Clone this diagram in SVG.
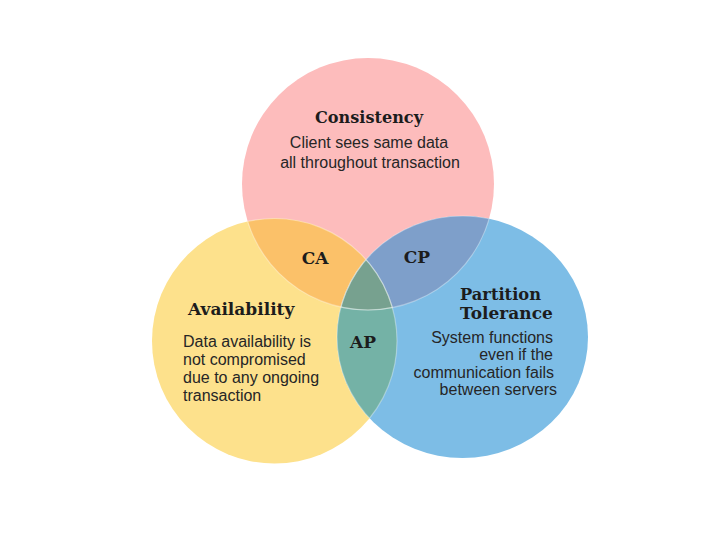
<svg xmlns="http://www.w3.org/2000/svg" width="720" height="542" viewBox="0 0 720 542">
<style>
.title{font-family:"DejaVu Serif","Liberation Serif",serif;font-weight:bold;font-size:17px;fill:#1c1c1c}
.body{font-family:"Liberation Sans",Arial,sans-serif;font-size:16px;fill:#262626}
.edge{fill:none;stroke:#ffffff;stroke-opacity:0.35;stroke-width:1.2}
</style>
<defs>
<clipPath id="clipC"><circle cx="368" cy="184" r="126"/></clipPath>
<clipPath id="clipA"><circle cx="274.5" cy="341" r="122.5"/></clipPath>
<clipPath id="clipP"><ellipse cx="462.5" cy="337" rx="125.5" ry="121"/></clipPath>
</defs>
<rect width="720" height="542" fill="#ffffff"/>
<g id="consistency">
<circle cx="368" cy="184" r="126" fill="#fdbcbc"/>
<text class="title" x="315" y="123" textLength="108" lengthAdjust="spacingAndGlyphs">Consistency</text>
<text class="body" x="369" y="148" text-anchor="middle">Client sees same data</text>
<text class="body" x="370" y="168" text-anchor="middle">all throughout transaction</text>
</g>
<g id="availability">
<circle cx="274.5" cy="341" r="122.5" fill="#fde18c"/>
<text class="title" x="188" y="315">Availability</text>
<text class="body" x="183" y="347">Data availability is</text>
<text class="body" x="183" y="365">not compromised</text>
<text class="body" x="183" y="383">due to any ongoing</text>
<text class="body" x="183" y="401">transaction</text>
</g>
<g id="partition">
<ellipse cx="462.5" cy="337" rx="125.5" ry="121" fill="#7dbde6"/>
<text class="title" x="460" y="300" textLength="81" lengthAdjust="spacingAndGlyphs">Partition</text>
<text class="title" x="460" y="319">Tolerance</text>
<text class="body" x="553" y="343" text-anchor="end">System functions</text>
<text class="body" x="553" y="360" text-anchor="end">even if the</text>
<text class="body" x="554" y="378" text-anchor="end">communication fails</text>
<text class="body" x="557" y="395" text-anchor="end">between servers</text>
</g>
<g id="ca">
<circle cx="274.5" cy="341" r="122.5" fill="#fbc169" clip-path="url(#clipC)"/>
<text class="title" x="315" y="264" text-anchor="middle">CA</text>
</g>
<g id="cp">
<ellipse cx="462.5" cy="337" rx="125.5" ry="121" fill="#7e9fca" clip-path="url(#clipC)"/>
<text class="title" x="417" y="263" text-anchor="middle">CP</text>
</g>
<g id="ap">
<ellipse cx="462.5" cy="337" rx="125.5" ry="121" fill="#74b2a6" clip-path="url(#clipA)"/>
<text class="title" x="363" y="348" text-anchor="middle">AP</text>
</g>
<g id="cap">
<g clip-path="url(#clipA)">
<ellipse cx="462.5" cy="337" rx="125.5" ry="121" fill="#77a18f" clip-path="url(#clipC)"/>
</g>
</g>
<g id="edges">
<circle class="edge" cx="368" cy="184" r="126" clip-path="url(#clipA)"/>
<circle class="edge" cx="368" cy="184" r="126" clip-path="url(#clipP)"/>
<circle class="edge" cx="274.5" cy="341" r="122.5" clip-path="url(#clipC)"/>
<circle class="edge" cx="274.5" cy="341" r="122.5" clip-path="url(#clipP)"/>
<ellipse class="edge" cx="462.5" cy="337" rx="125.5" ry="121" clip-path="url(#clipC)"/>
<ellipse class="edge" cx="462.5" cy="337" rx="125.5" ry="121" clip-path="url(#clipA)"/>
</g>
</svg>
